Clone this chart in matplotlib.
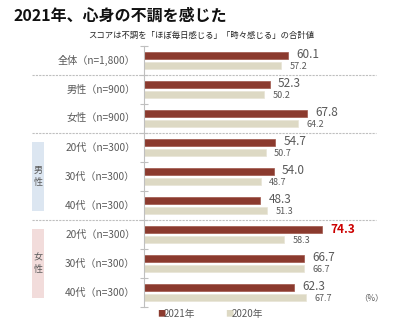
import matplotlib
matplotlib.use("Agg")
import matplotlib.pyplot as plt
from matplotlib.patches import Rectangle
import numpy as np

plt.rcParams['font.family'] = ['Noto Sans CJK JP', 'DejaVu Sans']

# データ
labels = ["全体（n=1,800）", "男性（n=900）", "女性（n=900）",
          "20代（n=300）", "30代（n=300）", "40代（n=300）",
          "20代（n=300）", "30代（n=300）", "40代（n=300）"]
val_2021 = [60.1, 52.3, 67.8, 54.7, 54.0, 48.3, 74.3, 66.7, 62.3]
val_2020 = [57.2, 50.2, 64.2, 50.7, 48.7, 51.3, 58.3, 66.7, 67.7]
highlight = 6  # 女性20代

c21 = "#8B3A2E"
c20 = "#DDD9C4"
gray = "#595959"

fig = plt.figure(figsize=(4.0, 3.26), dpi=100)
ax = fig.add_axes([0.36, 0.0583, 0.60, 0.8006])

y = np.arange(len(labels))
h = 0.24
off = 0.17
ax.barh(y - off, val_2021, height=h, color=c21, edgecolor="#A0574A", linewidth=0.5)
ax.barh(y + off, val_2020, height=h, color=c20, edgecolor="#E8E5D6", linewidth=0.5)

for i in range(len(labels)):
    if i == highlight:
        ax.text(val_2021[i] + 3.5, y[i] - off, f"{val_2021[i]:.1f}", va="center",
                ha="left", fontsize=8.5, color="#CC0000", fontweight="bold")
    else:
        ax.text(val_2021[i] + 3.5, y[i] - off - 0.05, f"{val_2021[i]:.1f}", va="center",
                ha="left", fontsize=8.5, color=gray)
    ax.text(val_2020[i] + 3.5, y[i] + off + 0.05, f"{val_2020[i]:.1f}", va="center",
            ha="left", fontsize=6.5, color=gray)

ax.set_xlim(0, 100)
ax.set_ylim(len(labels) - 0.5, -0.5)
for s in ["top", "right", "bottom"]:
    ax.spines[s].set_visible(False)
ax.spines["left"].set_color("#BFBFBF")
ax.spines["left"].set_linewidth(0.8)
ax.set_xticks([])
ax.set_yticks(np.arange(len(labels) + 1) - 0.5)
ax.set_yticklabels([])
ax.tick_params(axis="y", direction="inout", length=6, color="#BFBFBF", width=0.8)

# カテゴリ名
for i, lab in enumerate(labels):
    ax.text(-3.6, y[i], lab, ha="right", va="center", fontsize=7.3, color=gray)

# 区切りの点線
for b in [0.5, 2.5, 5.5]:
    ax.plot([-0.467, 0.967], [b, b], transform=ax.get_yaxis_transform(),
            clip_on=False, color="#BFBFBF", linestyle=(0, (2, 1)), linewidth=0.8)

# 男性・女性のラベル枠
W, H = 400, 326
for (y0, y1, col, txt) in [(142, 211, "#DCE6F1", "男\n性"), (229, 298, "#F2DCDB", "女\n性")]:
    fig.patches.append(Rectangle((32 / W, 1 - y1 / H), 12 / W, (y1 - y0) / H,
                                 transform=fig.transFigure, facecolor=col, edgecolor="none"))
    fig.text(38 / W, 1 - (y0 + y1) / 2 / H, txt, ha="center", va="center",
             fontsize=6.5, color=gray, linespacing=1.35)

fig.text(13 / W, 1 - 16 / H, "2021年、心身の不調を感じた", ha="left", va="center",
         fontsize=11.5, fontweight="bold", color="#111111")
fig.text(201 / W, 1 - 35 / H, "スコアは不調を「ほぼ毎日感じる」「時々感じる」の合計値",
         ha="center", va="center", fontsize=6, color="#222222")

# 凡例
fig.text(157 / W, 1 - 314 / H, "■", ha="left", va="center", fontsize=6, color=c21)
fig.text(164 / W, 1 - 314 / H, "2021年", ha="left", va="center", fontsize=7, color=gray)
fig.text(225 / W, 1 - 314 / H, "■", ha="left", va="center", fontsize=6, color=c20)
fig.text(232 / W, 1 - 314 / H, "2020年", ha="left", va="center", fontsize=7, color=gray)
fig.text(384 / W, 1 - 298 / H, "（%）", ha="right", va="center", fontsize=6, color=gray)

fig.savefig("out.png", dpi=100)
